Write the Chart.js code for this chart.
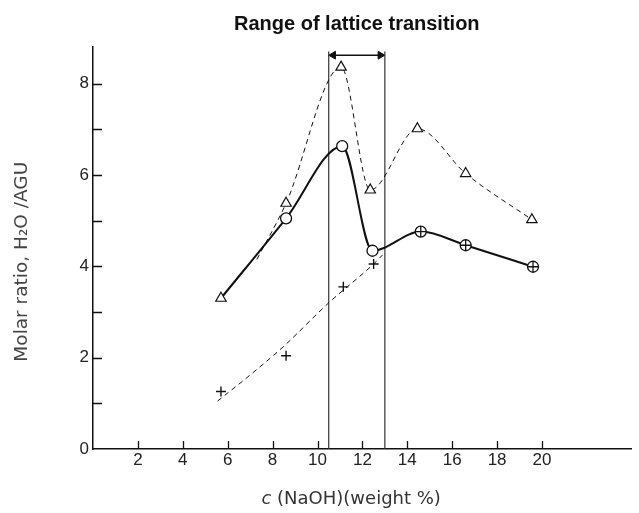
<!DOCTYPE html>
<html>
<head>
<meta charset="utf-8">
<script src="https://cdn.jsdelivr.net/npm/chart.js@4.4.0/dist/chart.umd.min.js"></script>
<style>
html, body { margin: 0; padding: 0; background: #fff; }
</style>
</head>
<body>
<canvas id="Chart" width="639" height="513"></canvas>
<script>
// Values
var triX = [5.7, 8.6, 11.05, 12.35, 14.45, 16.6, 19.55];
var triY = [3.3, 5.38, 8.36, 5.67, 7.01, 6.03, 5.02];
var circX = [8.6, 11.1, 12.45];
var circY = [5.05, 6.63, 4.34];
var crossCircX = [14.6, 16.6, 19.6];
var crossCircY = [4.76, 4.46, 3.99];
var plusX = [5.7, 8.6, 11.15, 12.5];
var plusY = [1.26, 2.04, 3.55, 4.05];

// Curves as drawn through (or near) the points
var solidX = [5.7, 8.6, 11.1, 12.45, 14.6, 16.6, 19.6];
var solidY = [3.3, 5.05, 6.63, 4.34, 4.76, 4.46, 3.99];
var triLineX = [7.3, 8.6, 11.05, 12.35, 14.45, 16.6, 19.55];
var triLineY = [4.15, 5.38, 8.36, 5.67, 7.01, 6.03, 5.02];
var plusLineX = [5.55, 7.0, 8.5, 10.5, 12.5, 12.9];
var plusLineY = [1.05, 1.62, 2.25, 3.2, 4.05, 4.25];

// Range of lattice transition
var rangeX = [10.5, 13];
var rangeTop = 8.7;
var arrowY = 8.62;

var xTicks = [2, 4, 6, 8, 10, 12, 14, 16, 18, 20];
var yTicks = [0, 1, 2, 3, 4, 5, 6, 7, 8];
var yLabels = [0, 2, 4, 6, 8];

var titleText = 'Range of lattice transition';
var xTitleSymbol = 'c';
var xTitleText = ' (NaOH)(weight %)';
var yTitleText = 'Molar ratio, H\u2082O /AGU';

function pts(xs, ys) {
    return xs.map(function (x, i) { return { x: x, y: ys[i] }; });
}

var black = '#111';

// inward tick marks on both axes, the heading and the axis titles
var extras = {
    id: 'extras',
    afterDatasetsDraw: function (chart) {
        var ctx = chart.ctx;
        var xs = chart.scales.x, ys = chart.scales.y;
        var a = chart.chartArea;
        ctx.save();
        ctx.strokeStyle = black;
        ctx.lineWidth = 1.3;
        ctx.beginPath();
        xTicks.forEach(function (v) {
            var px = Math.round(xs.getPixelForValue(v)) + 0.5;
            ctx.moveTo(px, a.bottom);
            ctx.lineTo(px, a.bottom - 8);
        });
        yTicks.forEach(function (v) {
            if (v === 0) return;
            var py = Math.round(ys.getPixelForValue(v)) + 0.5;
            ctx.moveTo(a.left, py);
            ctx.lineTo(a.left + 9, py);
        });
        ctx.stroke();

        ctx.textAlign = 'center';
        ctx.textBaseline = 'middle';

        // heading, centred over the transition range like in the figure
        ctx.fillStyle = black;
        ctx.font = 'bold 20px "Liberation Sans"';
        ctx.fillText(titleText, xs.getPixelForValue(11.75), 24);

        // x axis title, with an italic c
        ctx.fillStyle = '#333';
        var fItal = 'italic 18px "DejaVu Sans"';
        var fReg = '18px "DejaVu Sans"';
        ctx.font = fItal;
        var w1 = ctx.measureText(xTitleSymbol).width;
        ctx.font = fReg;
        var w2 = ctx.measureText(xTitleText).width;
        var x0 = xs.getPixelForValue(11.5) - (w1 + w2) / 2;
        ctx.textAlign = 'left';
        ctx.font = fItal;
        ctx.fillText(xTitleSymbol, x0, 499);
        ctx.font = fReg;
        ctx.fillText(xTitleText, x0 + w1, 499);

        // y axis title
        ctx.textAlign = 'center';
        ctx.fillStyle = '#444';
        ctx.font = '18.5px "DejaVu Sans"';
        ctx.translate(22, ys.getPixelForValue(4.1));
        ctx.rotate(-Math.PI / 2);
        ctx.fillText(yTitleText, 0, 0);
        ctx.restore();
    }
};

var data = {
    datasets: [
        {   // open triangles
            data: pts(triX, triY),
            showLine: false,
            pointStyle: 'triangle',
            pointRadius: 6,
            pointBackgroundColor: '#fff',
            pointBorderColor: black,
            pointBorderWidth: 1.2
        },
        {   // open circles
            data: pts(circX, circY),
            showLine: false,
            pointStyle: 'circle',
            pointRadius: 5.5,
            pointBackgroundColor: '#fff',
            pointBorderColor: black,
            pointBorderWidth: 1.3
        },
        {   // crossed circles: cross part
            data: pts(crossCircX, crossCircY),
            showLine: false,
            pointStyle: 'cross',
            pointRadius: 5.5,
            pointBorderColor: black,
            pointBorderWidth: 1.3
        },
        {   // crossed circles: ring part
            data: pts(crossCircX, crossCircY),
            showLine: false,
            pointStyle: 'circle',
            pointRadius: 5.5,
            pointBackgroundColor: '#fff',
            pointBorderColor: black,
            pointBorderWidth: 1.3
        },
        {   // plus signs
            data: pts(plusX, plusY),
            showLine: false,
            pointStyle: 'cross',
            pointRadius: 5,
            pointBorderColor: black,
            pointBorderWidth: 1.4
        },
        {   // solid curve
            data: pts(solidX, solidY),
            showLine: true,
            borderColor: black,
            borderWidth: 2,
            pointRadius: 0,
            cubicInterpolationMode: 'monotone'
        },
        {   // dashed curve through triangles
            data: pts(triLineX, triLineY),
            showLine: true,
            borderColor: black,
            borderWidth: 1,
            borderDash: [5, 4],
            pointRadius: 0,
            cubicInterpolationMode: 'monotone'
        },
        {   // dashed curve near plus signs
            data: pts(plusLineX, plusLineY),
            showLine: true,
            borderColor: black,
            borderWidth: 1,
            borderDash: [5, 4],
            pointRadius: 0,
            cubicInterpolationMode: 'monotone'
        },
        {   // left boundary of the transition range
            data: [{ x: rangeX[0], y: 0 }, { x: rangeX[0], y: rangeTop }],
            showLine: true,
            borderColor: '#333',
            borderWidth: 1.2,
            pointRadius: 0
        },
        {   // right boundary
            data: [{ x: rangeX[1], y: 0 }, { x: rangeX[1], y: rangeTop }],
            showLine: true,
            borderColor: '#333',
            borderWidth: 1.2,
            pointRadius: 0
        },
        {   // double arrow
            data: [{ x: rangeX[0] + 0.2, y: arrowY }, { x: rangeX[1] - 0.2, y: arrowY }],
            showLine: true,
            borderColor: black,
            borderWidth: 1.6,
            pointStyle: 'triangle',
            pointRadius: 4.5,
            pointRotation: [-90, 90],
            pointBackgroundColor: black,
            pointBorderColor: black,
            pointBorderWidth: 1
        }
    ]
};

var config = {
    type: 'scatter',
    data: data,
    plugins: [extras],
    options: {
        responsive: false,
        animation: false,
        events: [],
        layout: { padding: { left: 0, right: 0, top: 47, bottom: 0 } },
        plugins: {
            legend: { display: false },
            tooltip: { enabled: false },
            title: { display: false }
        },
        scales: {
            x: {
                type: 'linear',
                min: 0,
                max: 24,
                afterBuildTicks: function (s) {
                    s.ticks = xTicks.map(function (v) { return { value: v }; });
                },
                afterFit: function (s) { s.height = 64; },
                grid: { display: false, drawTicks: false },
                border: { display: true, color: black, width: 1.5 },
                ticks: {
                    padding: 1,
                    color: '#222',
                    font: { family: 'Liberation Sans', size: 17 }
                },
                title: { display: false }
            },
            y: {
                type: 'linear',
                min: 0,
                max: 8.8,
                afterBuildTicks: function (s) {
                    s.ticks = yTicks.map(function (v) { return { value: v }; });
                },
                afterFit: function (s) { s.width = 93; },
                grid: { display: false, drawTicks: false },
                border: { display: true, color: black, width: 1.5 },
                ticks: {
                    padding: 4,
                    color: '#222',
                    font: { family: 'Liberation Sans', size: 17 },
                    callback: function (v) { return yLabels.indexOf(v) >= 0 ? v : ''; }
                },
                title: { display: false }
            }
        }
    }
};

var ctx = document.getElementById('Chart').getContext('2d');
var myChart = new Chart(ctx, config);
</script>
</body>
</html>
